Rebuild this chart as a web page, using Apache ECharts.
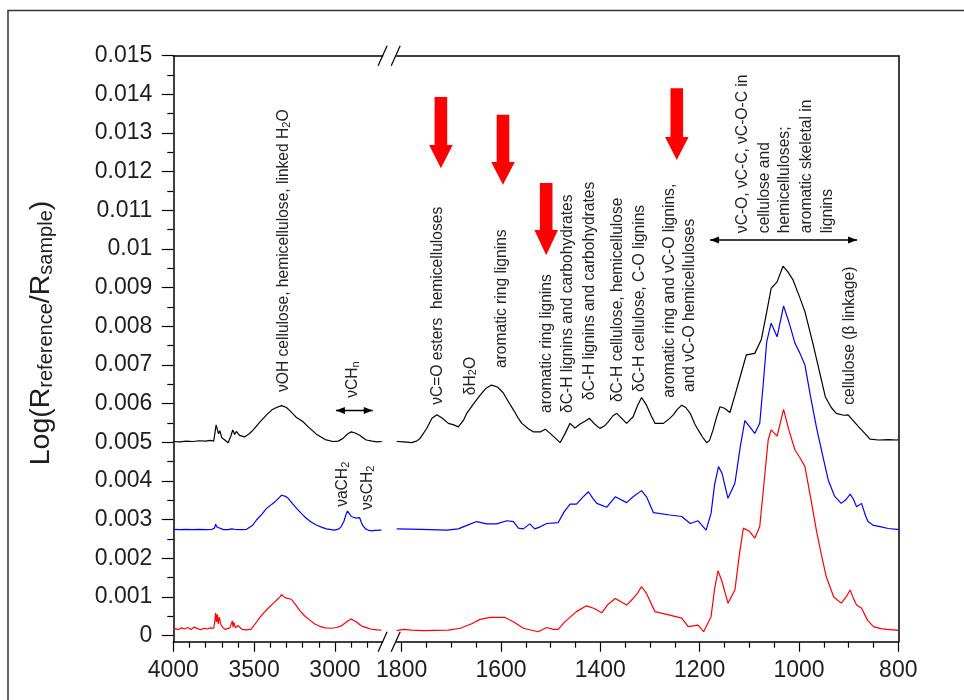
<!DOCTYPE html>
<html><head><meta charset="utf-8">
<script src="https://cdn.jsdelivr.net/npm/echarts@6/dist/echarts.min.js"></script>
<style>html,body{margin:0;padding:0;background:#fff}#c{width:964px;height:700px}</style>
</head><body><div id="c"></div>
<script>
// ---------------- DATA (wavenumber cm-1, value) ----------------
const blackLeft = [[4000,0.00502],[3960,0.00501],[3920,0.00503],[3880,0.00502],[3840,0.00504],[3800,0.00503],[3770,0.00505],[3750,0.00503],[3735,0.00545],[3728,0.00540],[3720,0.00522],[3712,0.00530],[3700,0.00512],[3681,0.00506],[3661,0.00499],[3645,0.00515],[3632,0.00532],[3620,0.00520],[3610,0.00528],[3590,0.00518],[3560,0.00514],[3530,0.00522],[3505,0.00532],[3465,0.00552],[3423,0.00571],[3390,0.00584],[3361,0.00590],[3330,0.00595],[3300,0.00590],[3279,0.00582],[3240,0.00565],[3197,0.00553],[3160,0.00538],[3115,0.00521],[3060,0.00507],[3012,0.00502],[2980,0.00503],[2950,0.00510],[2920,0.00522],[2899,0.00527],[2875,0.00524],[2847,0.00518],[2820,0.00510],[2806,0.00506],[2770,0.00503],[2740,0.00501],[2710,0.00502]];
const blueLeft = [[4000,0.00275],[3960,0.00274],[3920,0.00275],[3880,0.00274],[3840,0.00275],[3800,0.00274],[3760,0.00275],[3745,0.00278],[3738,0.00288],[3730,0.00281],[3720,0.00277],[3690,0.00274],[3660,0.00274],[3640,0.00276],[3630,0.00280],[3620,0.00275],[3580,0.00274],[3547,0.00275],[3510,0.00285],[3485,0.00299],[3450,0.00315],[3423,0.00329],[3390,0.00340],[3371,0.00346],[3345,0.00357],[3330,0.00363],[3305,0.00360],[3289,0.00355],[3260,0.00340],[3237,0.00329],[3205,0.00315],[3176,0.00303],[3145,0.00293],[3115,0.00286],[3080,0.00280],[3053,0.00276],[3002,0.00273],[2975,0.00276],[2961,0.00282],[2945,0.00295],[2930,0.00315],[2922,0.00322],[2912,0.00316],[2899,0.00308],[2885,0.00306],[2870,0.00304],[2858,0.00309],[2847,0.00305],[2836,0.00292],[2826,0.00284],[2810,0.00276],[2795,0.00273],[2770,0.00271],[2754,0.00272],[2712,0.00273]];
const redLeft = [[4000,0.00014],[3985,0.00018],[3970,0.00015],[3950,0.00020],[3930,0.00017],[3910,0.00021],[3890,0.00016],[3870,0.00022],[3850,0.00018],[3830,0.00015],[3810,0.00019],[3790,0.00017],[3770,0.00020],[3750,0.00019],[3742,0.00040],[3738,0.00058],[3733,0.00035],[3728,0.00055],[3722,0.00030],[3716,0.00048],[3712,0.00045],[3705,0.00028],[3695,0.00022],[3680,0.00016],[3671,0.00014],[3650,0.00020],[3640,0.00018],[3635,0.00038],[3630,0.00022],[3625,0.00034],[3615,0.00020],[3600,0.00026],[3590,0.00024],[3575,0.00016],[3550,0.00015],[3520,0.00016],[3490,0.00032],[3470,0.00044],[3442,0.00058],[3410,0.00072],[3380,0.00084],[3355,0.00094],[3340,0.00100],[3330,0.00106],[3315,0.00100],[3300,0.00097],[3289,0.00096],[3270,0.00094],[3258,0.00090],[3240,0.00078],[3216,0.00064],[3185,0.00050],[3155,0.00040],[3125,0.00030],[3093,0.00024],[3060,0.00020],[3020,0.00019],[2990,0.00021],[2961,0.00025],[2935,0.00033],[2915,0.00039],[2899,0.00043],[2885,0.00039],[2868,0.00036],[2845,0.00028],[2826,0.00023],[2800,0.00020],[2780,0.00017],[2764,0.00016],[2740,0.00015],[2712,0.00014]];

const blackRight = [[1810,0.00502],[1795,0.00501],[1780,0.00499],[1770,0.00503],[1763,0.00510],[1750,0.00535],[1739,0.00562],[1729,0.00571],[1718,0.00562],[1706,0.00549],[1695,0.00545],[1686,0.00540],[1675,0.00558],[1669,0.00575],[1655,0.00600],[1642,0.00622],[1630,0.00640],[1619,0.00648],[1607,0.00643],[1595,0.00627],[1585,0.00605],[1575,0.00584],[1565,0.00562],[1558,0.00549],[1545,0.00535],[1535,0.00527],[1520,0.00527],[1511,0.00534],[1501,0.00523],[1490,0.00510],[1481,0.00499],[1470,0.00525],[1461,0.00549],[1451,0.00537],[1440,0.00548],[1430,0.00555],[1422,0.00562],[1412,0.00548],[1401,0.00536],[1392,0.00542],[1384,0.00553],[1375,0.00568],[1367,0.00575],[1357,0.00562],[1347,0.00549],[1334,0.00566],[1325,0.00595],[1317,0.00616],[1307,0.00596],[1298,0.00570],[1290,0.00549],[1273,0.00549],[1262,0.00560],[1253,0.00571],[1245,0.00585],[1236,0.00596],[1228,0.00590],[1219,0.00575],[1210,0.00548],[1203,0.00532],[1195,0.00515],[1186,0.00499],[1180,0.00505],[1173,0.00532],[1166,0.00565],[1159,0.00592],[1150,0.00588],[1139,0.00577],[1126,0.00635],[1115,0.00685],[1106,0.00726],[1089,0.00730],[1076,0.00765],[1066,0.00830],[1056,0.00898],[1044,0.00915],[1032,0.00956],[1022,0.00940],[1012,0.00920],[1000,0.00880],[988,0.00838],[972,0.00756],[960,0.00690],[947,0.00618],[935,0.00590],[925,0.00575],[910,0.00570],[901,0.00571],[890,0.00555],[877,0.00536],[865,0.00520],[857,0.00508],[840,0.00506],[820,0.00507],[803,0.00506],[800,0.00506]];
const blueRight = [[1810,0.00276],[1760,0.00275],[1709,0.00273],[1686,0.00276],[1665,0.00287],[1649,0.00295],[1629,0.00289],[1609,0.00289],[1588,0.00297],[1575,0.00295],[1565,0.00278],[1555,0.00276],[1542,0.00289],[1532,0.00276],[1520,0.00282],[1508,0.00290],[1485,0.00292],[1473,0.00320],[1461,0.00340],[1448,0.00340],[1435,0.00358],[1424,0.00372],[1415,0.00355],[1407,0.00342],[1387,0.00332],[1370,0.00359],[1347,0.00344],[1334,0.00359],[1317,0.00375],[1307,0.00359],[1293,0.00318],[1260,0.00312],[1236,0.00308],[1219,0.00290],[1203,0.00297],[1187,0.00273],[1177,0.00316],[1170,0.00390],[1162,0.00437],[1155,0.00420],[1143,0.00355],[1129,0.00394],[1118,0.00490],[1109,0.00556],[1099,0.00540],[1089,0.00523],[1079,0.00549],[1072,0.00650],[1065,0.00760],[1056,0.00808],[1044,0.00773],[1031,0.00853],[1020,0.00810],[1008,0.00756],[998,0.00730],[988,0.00700],[977,0.00620],[965,0.00540],[953,0.00470],[941,0.00402],[928,0.00360],[915,0.00342],[905,0.00352],[897,0.00366],[890,0.00352],[884,0.00333],[874,0.00342],[866,0.00310],[861,0.00295],[850,0.00285],[837,0.00282],[820,0.00277],[803,0.00275],[800,0.00275]];
const redRight = [[1810,0.00013],[1796,0.00016],[1780,0.00014],[1756,0.00013],[1706,0.00014],[1682,0.00019],[1660,0.00030],[1642,0.00042],[1622,0.00047],[1592,0.00047],[1575,0.00036],[1555,0.00019],[1525,0.00010],[1508,0.00021],[1495,0.00016],[1485,0.00016],[1471,0.00036],[1448,0.00062],[1428,0.00077],[1412,0.00070],[1397,0.00059],[1385,0.00080],[1370,0.00096],[1347,0.00079],[1334,0.00096],[1325,0.00110],[1317,0.00127],[1307,0.00109],[1290,0.00062],[1260,0.00053],[1236,0.00045],[1223,0.00023],[1203,0.00027],[1192,0.00010],[1177,0.00049],[1170,0.00120],[1163,0.00168],[1155,0.00140],[1143,0.00084],[1129,0.00118],[1120,0.00210],[1112,0.00278],[1100,0.00270],[1089,0.00252],[1079,0.00282],[1070,0.00400],[1062,0.00506],[1056,0.00532],[1044,0.00516],[1031,0.00585],[1020,0.00530],[1008,0.00480],[998,0.00460],[988,0.00437],[977,0.00360],[965,0.00273],[955,0.00210],[945,0.00152],[930,0.00100],[915,0.00084],[905,0.00100],[897,0.00118],[890,0.00095],[884,0.00079],[874,0.00071],[862,0.00040],[850,0.00023],[835,0.00018],[823,0.00016],[803,0.00014],[800,0.00013]];

const yTickValues = [0,0.001,0.002,0.003,0.004,0.005,0.006,0.007,0.008,0.009,0.01,0.011,0.012,0.013,0.014,0.015];
const xTicksLeft = [4000,3500,3000];
const xTicksRight = [1800,1600,1400,1200,1000,800];

// annotation anchors (data coordinates)
const notes = [
  {g:0, at:[3315,0.0063], t:'{m|νOH cellulose, hemicellulose, linked H}{s|2}{m|O}'},
  {g:0, at:[2889,0.00615], t:'{m|νCH}{s|n}'},
  {g:0, at:[2950,0.00333], t:'{m|νaCH}{s|2}'},
  {g:0, at:[2796,0.00325], t:'{m|νsCH}{s|2}'},
  {g:1, at:[1727,0.00597], t:'{m|νC=O esters  hemicelluloses}'},
  {g:1, at:[1662,0.00622], t:'{m|δH}{s|2}{m|O}'},
  {g:1, at:[1598,0.00692], t:'{m|aromatic ring lignins}'},
  {g:1, at:[1507,0.00576], t:'{m|aromatic ring lignins}'},
  {g:1, at:[1465,0.00576], t:'{m|δC-H lignins and carbohydrates}'},
  {g:1, at:[1421,0.00609], t:'{m|δC-H lignins and carbohydrates}'},
  {g:1, at:[1366,0.00604], t:'{m|δC-H cellulose, hemicellulose}'},
  {g:1, at:[1320,0.0063], t:'{m|δC-H cellulose, C-O lignins}'},
  {g:1, at:[1260,0.00615], t:'{m|aromatic ring and νC-O lignins,}'},
  {g:1, at:[1220,0.0063], t:'{m|and νC-O hemicelluloses}'},
  {g:1, at:[1113,0.01041], t:'{m|νC-O, νC-C, νC-O-C in}'},
  {g:1, at:[1069,0.01041], t:'{m|cellulose and}'},
  {g:1, at:[1028,0.01041], t:'{m|hemicelluloses;}'},
  {g:1, at:[984,0.01041], t:'{m|aromatic skeletal in}'},
  {g:1, at:[942,0.01041], t:'{m|lignins}'},
  {g:1, at:[897,0.00597], t:'{m|cellulose (β linkage)}'}
];
// red arrows: [wavenumber, top, head start, tip]
const redArrows = [[1721,0.01393,0.01269,0.01209],[1596,0.01347,0.01225,0.01166],[1509,0.01171,0.01049,0.00984],[1246,0.01416,0.0129,0.0123]];
// double arrows: grid, y, x1, x2
const dblArrows = [[0,0.00582,2994,2766],[1,0.01023,1179,883]];

// ---------------- LAYOUT ----------------
const FONT = "'Liberation Sans', Arial, Helvetica, sans-serif";
const AX = '#000', LAB = '#1e1e1e', TXT = '#222';
const TOP = 55.7, H = 586;
const LL = 173.3, LW = 209.3, RL = 396.7, RW = 501.6;
const YMIN = -0.000158, YMAX = 0.015;
const LMIN = 2705, LMAX = 4000, RMIN = 800, RMAX = 1810;

const yMinor = []; for (let i = 0; i < 15; i++) yMinor.push(+(0.0005 + i * 0.001).toFixed(4));
const xMinorL = []; for (let w = 3900; w >= 2800; w -= 100) if (w % 500) xMinorL.push(w);
const xMinorR = []; for (let w = 1750; w >= 850; w -= 50) if (w % 200) xMinorR.push(w);

const lineSt = {color: AX, width: 1.5};
const tickSt = {color: AX, width: 1.2};
function xAx(grid, min, max, kind, major, minor) {
  const a = {type: 'value', gridIndex: grid, min: min, max: max, inverse: true, splitLine: {show: false},
    position: kind === 'top' ? 'top' : 'bottom'};
  if (kind === 'major') {
    a.axisLine = {show: true, onZero: false, lineStyle: lineSt};
    a.axisTick = {show: true, inside: false, length: 10, customValues: major, lineStyle: tickSt};
    a.axisLabel = {show: true, customValues: major, formatter: v => String(Math.round(v)), margin: 17, fontSize: 23, fontFamily: FONT, color: LAB};
  } else if (kind === 'minor') {
    a.axisLine = {show: false, onZero: false};
    a.axisTick = {show: true, inside: false, length: 6, customValues: minor, lineStyle: tickSt};
    a.axisLabel = {show: false};
  } else {
    a.axisLine = {show: true, onZero: false, lineStyle: lineSt};
    a.axisTick = {show: false};
    a.axisLabel = {show: false};
  }
  return a;
}
const fmt = v => String(+(+v).toFixed(3));

const chart = echarts.init(document.getElementById('c'), null, {renderer: 'canvas'});
function ser(data, color, xi, yi) {
  return {type: 'line', data: data, xAxisIndex: xi, yAxisIndex: yi, showSymbol: false, symbol: 'none',
    lineStyle: {color: color, width: 1.2}, itemStyle: {color: color}, silent: true, animation: false, clip: true};
}
chart.setOption({
  animation: false,
  grid: [{left: LL, top: TOP, width: LW, height: H}, {left: RL, top: TOP, width: RW, height: H}],
  xAxis: [
    xAx(0, LMIN, LMAX, 'major', xTicksLeft), xAx(0, LMIN, LMAX, 'minor', null, xMinorL), xAx(0, LMIN, LMAX, 'top'),
    xAx(1, RMIN, RMAX, 'major', xTicksRight), xAx(1, RMIN, RMAX, 'minor', null, xMinorR), xAx(1, RMIN, RMAX, 'top')
  ],
  yAxis: [
    {type: 'value', gridIndex: 0, min: YMIN, max: YMAX, position: 'left', splitLine: {show: false},
     axisLine: {show: true, onZero: false, lineStyle: lineSt},
     axisTick: {show: true, length: 11.5, customValues: yTickValues, lineStyle: tickSt},
     axisLabel: {show: true, customValues: yTickValues, formatter: fmt, margin: 21, fontSize: 23, fontFamily: FONT, color: LAB}},
    {type: 'value', gridIndex: 0, min: YMIN, max: YMAX, position: 'left', splitLine: {show: false},
     axisLine: {show: false, onZero: false}, axisTick: {show: true, length: 6, customValues: yMinor, lineStyle: tickSt},
     axisLabel: {show: false}},
    {type: 'value', gridIndex: 1, min: YMIN, max: YMAX, position: 'right', splitLine: {show: false},
     axisLine: {show: true, onZero: false, lineStyle: lineSt}, axisTick: {show: false}, axisLabel: {show: false}}
  ],
  series: [
    ser(blackLeft, '#000000', 0, 0), ser(blueLeft, '#0000ff', 0, 0), ser(redLeft, '#ff0000', 0, 0),
    ser(blackRight, '#000000', 3, 2), ser(blueRight, '#0000ff', 3, 2), ser(redRight, '#ff0000', 3, 2)
  ]
});

function px(g, x, y) { return chart.convertToPixel({gridIndex: g}, [x, y]); }
const richA = {
  m: {fontSize: 15.6, fontFamily: FONT, fill: TXT, lineHeight: 17},
  s: {fontSize: 11, fontFamily: FONT, fill: TXT, lineHeight: 8, verticalAlign: 'bottom'}
};
const gfx = [];
// outer frame
gfx.push({type: 'rect', shape: {x: 8, y: 10.5, width: 1000, height: 1000}, style: {fill: 'none', stroke: '#333', lineWidth: 1.5}, silent: true});
// y-axis title
gfx.push({type: 'text', x: 41, y: 333, rotation: Math.PI / 2, silent: true,
  style: {text: '{m|Log(R}{s|reference}{m|/R}{s|sample}{m|)}', align: 'center', verticalAlign: 'middle',
    rich: {m: {fontSize: 28.5, fontFamily: FONT, fill: LAB, lineHeight: 31}, s: {fontSize: 20, fontFamily: FONT, fill: LAB, lineHeight: 14, verticalAlign: 'bottom'}}}});
// annotations
notes.forEach(n => {
  const p = px(n.g, n.at[0], n.at[1]);
  gfx.push({type: 'text', x: p[0], y: p[1], rotation: Math.PI / 2, silent: true,
    style: {text: n.t, align: 'left', verticalAlign: 'middle', rich: richA, fontSize: 15.6, fontFamily: FONT, fill: TXT}});
});
// red arrows
redArrows.forEach(a => {
  const t = px(1, a[0], a[1]), h = px(1, a[0], a[2]), k = px(1, a[0], a[3]);
  const cx = t[0], sw = 6.3, hw = 11.8;
  gfx.push({type: 'polygon', silent: true, shape: {points: [[cx - sw, t[1]], [cx + sw, t[1]], [cx + sw, h[1]], [cx + hw, h[1]], [cx, k[1]], [cx - hw, h[1]], [cx - sw, h[1]]]},
    style: {fill: '#ff0000'}});
});
// double arrows
dblArrows.forEach(d => {
  const a = px(d[0], d[2], d[1]), b = px(d[0], d[3], d[1]);
  const y = a[1];
  gfx.push({type: 'line', silent: true, shape: {x1: a[0], y1: y, x2: b[0], y2: y}, style: {stroke: '#000', lineWidth: 1.5}});
  gfx.push({type: 'polygon', silent: true, shape: {points: [[a[0], y], [a[0] + 9, y - 3.5], [a[0] + 9, y + 3.5]]}, style: {fill: '#000'}});
  gfx.push({type: 'polygon', silent: true, shape: {points: [[b[0], y], [b[0] - 9, y - 3.5], [b[0] - 9, y + 3.5]]}, style: {fill: '#000'}});
});
// axis break marks
[TOP, TOP + H].forEach(yy => {
  [LL + LW, RL - 1].forEach(xx => {
    gfx.push({type: 'line', silent: true, shape: {x1: xx - 4.5, y1: yy + 10, x2: xx + 4.5, y2: yy - 10}, style: {stroke: '#000', lineWidth: 1.2}});
  });
});
chart.setOption({graphic: {elements: gfx}});
</script>
</body></html>
